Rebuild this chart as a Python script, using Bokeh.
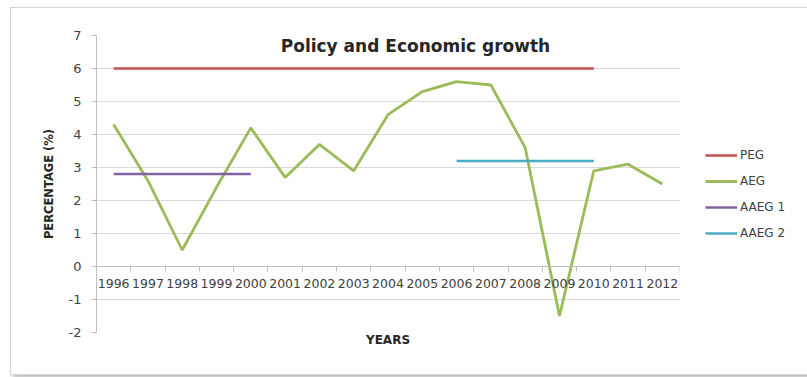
from bokeh.plotting import figure
from bokeh.models import (Range1d, FixedTicker, LinearAxis, Label, Legend, LegendItem)
from bokeh.embed import file_html
from bokeh.resources import INLINE

years = ["1996", "1997", "1998", "1999", "2000", "2001", "2002", "2003", "2004",
         "2005", "2006", "2007", "2008", "2009", "2010", "2011", "2012"]
aeg = [4.3, 2.6, 0.5, 2.4, 4.2, 2.7, 3.7, 2.9, 4.6, 5.3, 5.6, 5.5, 3.6, -1.5, 2.9, 3.1, 2.5]
peg_years = ["1996", "2010"]
peg = [6, 6]
aaeg1_years = ["1996", "2000"]
aaeg1 = [2.8, 2.8]
aaeg2_years = ["2006", "2010"]
aaeg2 = [3.2, 3.2]
y_ticks = [-2, -1, 0, 1, 2, 3, 4, 5, 6, 7]

idx = {y: i for i, y in enumerate(years)}
FONT = "DejaVu Sans"
TXT = "#404040"

p = figure(frame_width=583, frame_height=297, output_backend="svg", toolbar_location=None,
           x_range=Range1d(-0.5, len(years) - 0.5), y_range=Range1d(-2, 7),
           min_border_left=85, min_border_right=118, min_border_top=27, min_border_bottom=42,
           margin=(7, 0, 0, 10))
p.styles = {"border": "1px solid #d4d4d4", "box-shadow": "3px 3px 5px #b8b8b8"}
p.outline_line_color = None
p.background_fill_color = "white"

# grid
p.xgrid.visible = False
p.ygrid.grid_line_color = "#d9d9d9"
p.ygrid.ticker = FixedTicker(ticks=y_ticks)

# y axis
p.yaxis.ticker = FixedTicker(ticks=y_ticks)
p.yaxis.major_label_overrides = {t: str(t) for t in y_ticks}
p.yaxis.axis_line_color = "#bfbfbf"
p.yaxis.major_tick_line_color = "#bfbfbf"
p.yaxis.major_tick_in = 0
p.yaxis.major_tick_out = 5
p.yaxis.minor_tick_line_color = None
p.yaxis.major_label_text_font = FONT
p.yaxis.major_label_text_font_size = "13px"
p.yaxis.major_label_text_color = TXT
p.yaxis.major_label_standoff = 10
p.yaxis.axis_label = "PERCENTAGE (%)"
p.yaxis.axis_label_text_font = FONT
p.yaxis.axis_label_text_font_size = "11.5px"
p.yaxis.axis_label_text_font_style = "bold"
p.yaxis.axis_label_text_color = "#262626"
p.yaxis.axis_label_standoff = 10

# x axis at y = 0
xa = p.xaxis[0]
xa.fixed_location = 0
xa.ticker = FixedTicker(ticks=list(range(len(years))),
                        minor_ticks=[i - 0.5 for i in range(len(years) + 1)])
xa.major_label_overrides = {i: y for i, y in enumerate(years)}
xa.major_tick_line_color = None
xa.minor_tick_line_color = "#bfbfbf"
xa.minor_tick_in = 0
xa.minor_tick_out = 5
xa.axis_line_color = "#bfbfbf"
xa.major_label_text_font = FONT
xa.major_label_text_font_size = "12.5px"
xa.major_label_text_color = TXT
xa.major_label_standoff = 6

# YEARS label axis at bottom
xb = LinearAxis(axis_label="YEARS", major_label_text_font_size="0px",
                major_tick_line_color=None, minor_tick_line_color=None,
                axis_line_color=None, ticker=FixedTicker(ticks=[]))
xb.axis_label_text_font = FONT
xb.axis_label_text_font_size = "12px"
xb.axis_label_text_font_style = "bold"
xb.axis_label_text_color = "#262626"
xb.axis_label_standoff = 0
p.add_layout(xb, "below")

r_peg = p.line([idx[y] for y in peg_years], peg, line_color="#C0504D", line_width=2.5)
r_aeg = p.line([idx[y] for y in years], aeg, line_color="#9BBB59", line_width=2.8)
r_a1 = p.line([idx[y] for y in aaeg1_years], aaeg1, line_color="#8064A2", line_width=2.5)
r_a2 = p.line([idx[y] for y in aaeg2_years], aaeg2, line_color="#4BACC6", line_width=2.5)

title = Label(x=8.8, y=6.68, text="Policy and Economic growth", text_align="center",
              text_baseline="middle", text_font=FONT, text_font_size="17px",
              text_font_style="bold", text_color="#262626")
p.add_layout(title)

legend = Legend(items=[LegendItem(label="PEG", renderers=[r_peg]),
                       LegendItem(label="AEG", renderers=[r_aeg]),
                       LegendItem(label="AAEG 1", renderers=[r_a1]),
                       LegendItem(label="AAEG 2", renderers=[r_a2])],
                location=(26, 89), orientation="vertical")
legend.border_line_color = None
legend.background_fill_alpha = 0
legend.label_text_font = FONT
legend.label_text_font_size = "12px"
legend.label_text_color = TXT
legend.glyph_width = 32
legend.spacing = 6
legend.padding = 0
legend.margin = 0
legend.label_standoff = 3
p.add_layout(legend, "right")

open("out.html", "w").write(file_html(p, INLINE))
